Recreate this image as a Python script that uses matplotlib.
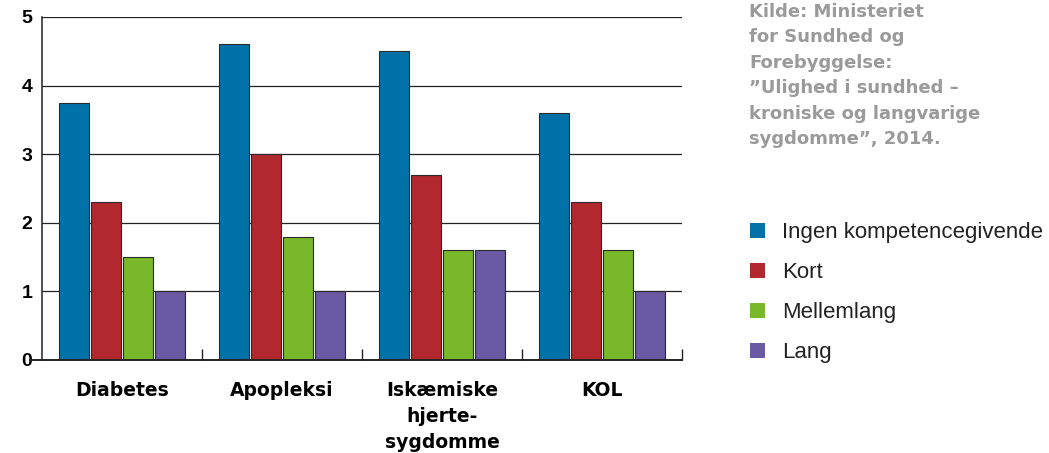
import numpy as np
import matplotlib
matplotlib.use("Agg")
import matplotlib.pyplot as plt
from matplotlib.patches import Patch

plt.rcParams['font.family'] = ['Liberation Sans', 'DejaVu Sans']

# data
categories = ['Diabetes', 'Apopleksi', 'Iskæmiske\nhjerte-\nsygdomme', 'KOL']
series_names = ['Ingen kompetencegivende', 'Kort', 'Mellemlang', 'Lang']
ingen = [3.75, 4.6, 4.5, 3.6]
kort = [2.3, 3.0, 2.7, 2.3]
mellemlang = [1.5, 1.8, 1.6, 1.6]
lang = [1.0, 1.0, 1.6, 1.0]
y_ticks = [0, 1, 2, 3, 4, 5]

colors = ['#0072a8', '#b1282f', '#79b72b', '#6a5aa3']
source_text = ('Kilde: Ministeriet\nfor Sundhed og\nForebyggelse:\n'
               '\u201dUlighed i sundhed \u2013\nkroniske og langvarige\n'
               'sygdomme\u201d, 2014.')

fig = plt.figure(figsize=(10.49, 4.53), dpi=100)
ax = fig.add_axes([42 / 1049, 1 - 360 / 453, 640 / 1049, 343 / 453])

x = np.arange(len(categories))
width = 0.193
step = 0.2
all_series = [ingen, kort, mellemlang, lang]
for i, vals in enumerate(all_series):
    ax.bar(x + (i - 1.5) * step, vals, width, color=colors[i],
           edgecolor='#2a2a2a', linewidth=0.8, zorder=3)

ax.set_xlim(-0.5, len(categories) - 0.5)
ax.set_ylim(0, 5)
ax.set_yticks(y_ticks)
ax.set_yticklabels([str(t) for t in y_ticks], fontsize=14, fontweight='bold')
ax.tick_params(axis='y', length=0, pad=7)

for t in y_ticks[1:]:
    ax.axhline(t, color='#222222', linewidth=0.9, zorder=1)

ax.set_xticks(x)
ax.set_xticklabels(categories, fontsize=13.5, fontweight='bold',
                   family='DejaVu Sans', linespacing=1.47)
ax.tick_params(axis='x', which='major', length=0, pad=15)
ax.set_xticks(list(x + 0.5), minor=True)
ax.tick_params(axis='x', which='minor', direction='in', length=8, width=1.0,
               color='#222222')

for s in ['top', 'right']:
    ax.spines[s].set_visible(False)
ax.spines['left'].set_linewidth(1.1)
ax.spines['left'].set_color('#222222')
ax.spines['bottom'].set_visible(False)
ax.axhline(0, xmin=-0.018, xmax=1.0, color='#222222', linewidth=1.4,
           clip_on=False, zorder=4)

fig.text(749 / 1049, 1 - 3 / 453, source_text, fontsize=13, fontweight='bold',
         family='DejaVu Sans', color='#9a9a9a', va='top', ha='left',
         linespacing=1.53)

handles = [Patch(facecolor=c, edgecolor='none') for c in colors]
fig.legend(handles, series_names, loc='upper left',
           bbox_to_anchor=(730 / 1049, 1 - 202 / 453), frameon=False,
           fontsize=16, handlelength=0.68, handleheight=0.68,
           handletextpad=0.75, labelspacing=0.86, labelcolor='#222222')

fig.savefig('out.png', dpi=100)
